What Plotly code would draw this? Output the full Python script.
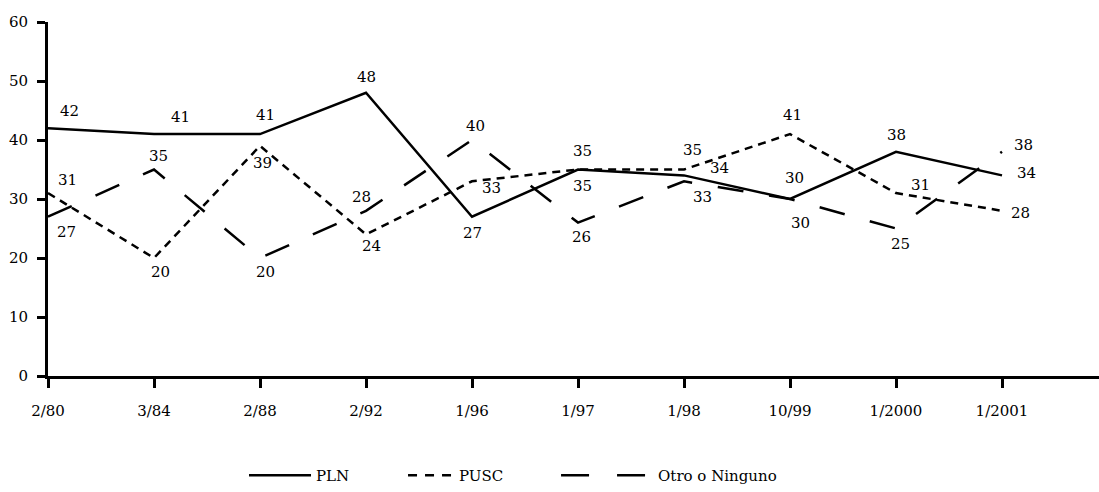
import plotly.graph_objects as go

categories = ["2/80", "3/84", "2/88", "2/92", "1/96", "1/97", "1/98", "10/99", "1/2000", "1/2001"]
pln = [42, 41, 41, 48, 27, 35, 34, 30, 38, 34]
pusc = [31, 20, 39, 24, 33, 35, 35, 41, 31, 28]
otro = [27, 35, 20, 28, 40, 26, 33, 30, 25, 38]
series_names = ["PLN", "PUSC", "Otro o Ninguno"]

# pixel offsets (dx right, dy down) of each value label from its point
off_pln = [(21, -17), (26, -17), (5, -19), (0, -16), (0, 16),
           (4, 16), (35, -7), (4, -21), (0, -17), (24, -2)]
off_pusc = [(19, -13), (6, 14), (2, 17), (5, 12), (19, 7),
            (4, -19), (8, -20), (2, -19), (24, -8), (18, 2)]
off_otro = [(18, 15), (4, -14), (5, 14), (-5, -14), (3, -14),
            (3, 14), (18, 16), (10, 24), (4, 15), (21, -7)]

FONT = "DejaVu Serif"
FS = 15
xs = list(range(len(categories)))

dashes = ["solid", "8px,6px", "26px,26px"]
legend_dashes = ["solid", "9px,8px", "28px,28px"]
legend_ids = ["legend", "legend2", "legend3"]
legend_x = [0.1865, 0.3378, 0.4834]
legend_iw = [62, 46, 92]

fig = go.Figure()
for vals, name, dash in zip([pln, pusc, otro], series_names, dashes):
    fig.add_trace(go.Scatter(x=xs, y=vals, name=name, mode="lines",
                             line=dict(color="black", width=2.5, dash=dash),
                             showlegend=False, hoverinfo="skip"))
for name, dash, lid in zip(series_names, legend_dashes, legend_ids):
    fig.add_trace(go.Scatter(x=[None], y=[None], name=name, mode="lines",
                             line=dict(color="black", width=2.5, dash=dash),
                             showlegend=True, legend=lid))

for vals, offs in zip([pln, pusc, otro], [off_pln, off_pusc, off_otro]):
    for xi, v, (dx, dy) in zip(xs, vals, offs):
        fig.add_annotation(x=xi, y=v, xref="x", yref="y", text=str(v),
                           showarrow=False, xshift=dx, yshift=-dy,
                           xanchor="center", yanchor="middle",
                           font=dict(family=FONT, size=FS, color="black"))

leg_common = dict(orientation="h", xanchor="left", yref="container", y=0.0,
                  yanchor="bottom",
                  font=dict(family=FONT, size=FS, color="black"),
                  bgcolor="rgba(0,0,0,0)")
legends = {}
for lid, lx, iw in zip(legend_ids, legend_x, legend_iw):
    legends[lid] = dict(leg_common, x=lx, itemwidth=iw)

fig.update_layout(
    width=1099, height=492,
    margin=dict(l=48, r=0, t=22, b=116),
    paper_bgcolor="white", plot_bgcolor="white",
    font=dict(family=FONT, size=FS, color="black"),
    showlegend=True,
    **legends,
    xaxis=dict(tickmode="array", tickvals=xs, ticktext=categories,
               range=[0, 9.915], showgrid=False, zeroline=False, automargin=False,
               showline=True, linecolor="black", linewidth=3,
               ticks="outside", ticklen=9, tickwidth=3, tickcolor="black",
               ticklabelstandoff=10),
    yaxis=dict(range=[0, 60], tickvals=[0, 10, 20, 30, 40, 50, 60],
               showgrid=False, zeroline=False, automargin=False,
               showline=True, linecolor="black", linewidth=3,
               ticks="outside", ticklen=8, tickwidth=3, tickcolor="black",
               ticklabelstandoff=6),
)

fig.write_html("out.html", config={"displayModeBar": False},
               post_script="document.body.style.margin='0';document.body.style.overflow='hidden';")
